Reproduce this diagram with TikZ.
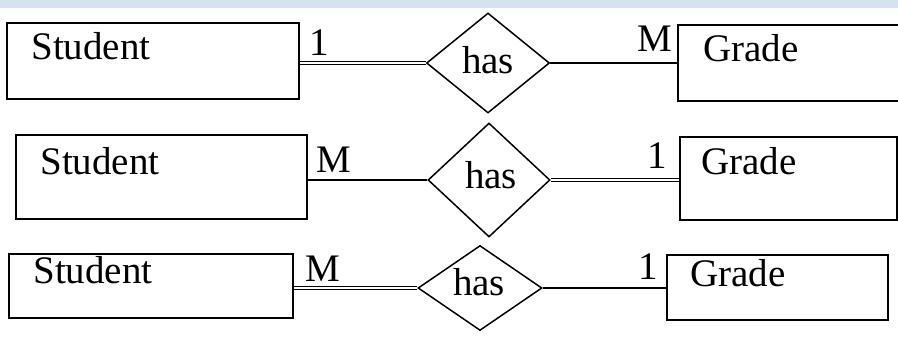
\documentclass[tikz,border=0pt]{standalone}
\usepackage{fontspec}
\setmainfont{Liberation Serif}
\usetikzlibrary{positioning,shapes.geometric}
\definecolor{bandblue}{RGB}{212,226,242}
\tikzset{entity/.style={draw,rectangle,line width=1.5pt,inner sep=0pt}}
\tikzset{rel/.style={draw,diamond,line width=1.5pt,inner sep=0pt}}
\tikzset{link/.style={line width=2.1pt}}
\tikzset{total/.style={double,line width=1.5pt,double distance=1.5pt}}
\tikzset{card/.style={inner sep=0pt,anchor=base west}}
\tikzset{cardr/.style={inner sep=0pt,anchor=base east}}

\begin{document}
\begin{tikzpicture}[x=1pt,y=-1pt,font=\fontsize{39}{40}\selectfont]
        \useasboundingbox (0,0) rectangle (898,351);
        \fill[bandblue] (0,0) rectangle (898,8);
        % Student 1 -- has -- M Grade
        \node(s1)[entity,minimum width=292,minimum height=76] at (153,61){};
        \node(r1)[rel,minimum width=123,minimum height=100] at (488,63){};
        \node(g1)[entity,minimum width=230,minimum height=76] at (793,63){};
        % Student M -- has -- 1 Grade
        \node(s2)[entity,minimum width=291,minimum height=84] at (161.5,177){};
        \node(r2)[rel,minimum width=122,minimum height=114] at (489,180){};
        \node(g2)[entity,minimum width=217,minimum height=83] at (788.5,178.5){};
        % Student M -- has -- 1 Grade, total on the student side
        \node(s3)[entity,minimum width=284,minimum height=64] at (151,286){};
        \node(r3)[rel,minimum width=124,minimum height=85] at (480,288){};
        \node(g3)[entity,minimum width=221,minimum height=65] at (777.5,287.5){};
        \node(s1t)[card] at ([shift={(25,37)}]s1.north west){Student};
        \node(s2t)[card] at ([shift={(25,40)}]s2.north west){Student};
        \node(s3t)[card] at ([shift={(25,30)}]s3.north west){Student};
        \node(g1t)[card] at ([shift={(26,37)}]g1.north west){Grade};
        \node(g2t)[card] at ([shift={(22,38)}]g2.north west){Grade};
        \node(g3t)[card] at ([shift={(24,32)}]g3.north west){Grade};
        \node(r1t)[inner sep=0pt,anchor=base] at ([shift={(0,10)}]r1.center){has};
        \node(r2t)[inner sep=0pt,anchor=base] at ([shift={(2,8)}]r2.center){has};
        \node(r3t)[inner sep=0pt,anchor=base] at ([shift={(-1,7)}]r3.center){has};
        \node(c1s)[card] at ([shift={(10,33)}]s1.north east){1};
        \node(c1g)[cardr] at ([shift={(-5,27)}]g1.north west){M};
        \node(c2s)[card] at ([shift={(9,38)}]s2.north east){M};
        \node(c2g)[cardr] at ([shift={(-12,32)}]g2.north west){1};
        \node(c3s)[card] at ([shift={(12,28)}]s3.north east){M};
        \node(c3g)[cardr] at ([shift={(-8,25)}]g3.north west){1};
        \draw
        (r1.west) edge[total] (r1.west -| s1.east)
        (r1.east) edge[link] (r1.east -| g1.west)
        (r2.west) edge[link] (r2.west -| s2.east)
        (r2.east) edge[total] (r2.east -| g2.west)
        (r3.west) edge[total] (r3.west -| s3.east)
        (r3.east) edge[link] (r3.east -| g3.west);
      \end{tikzpicture}
\end{document}
